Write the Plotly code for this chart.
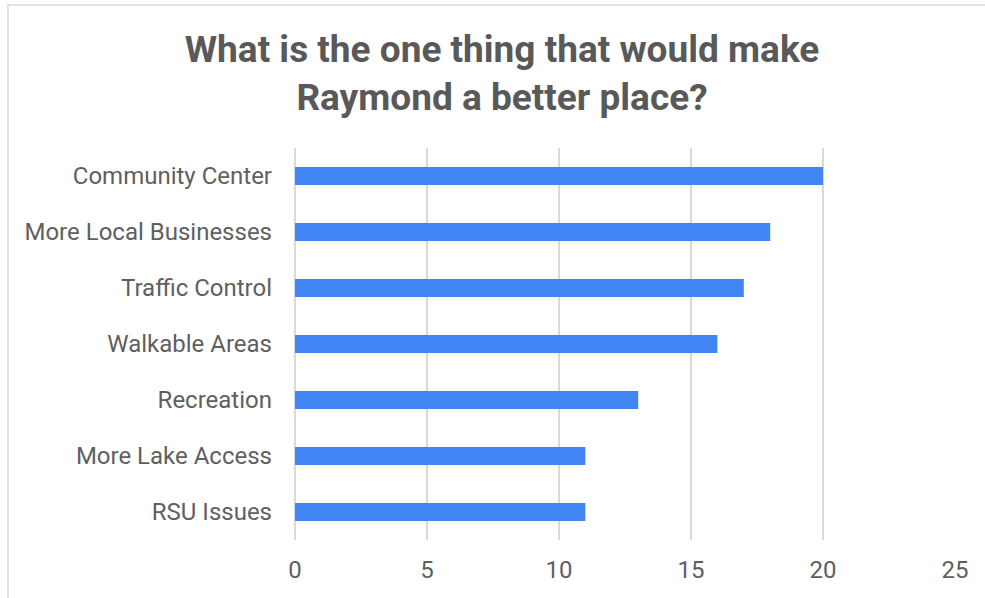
import plotly.graph_objects as go

categories = ["Community Center", "More Local Businesses", "Traffic Control",
              "Walkable Areas", "Recreation", "More Lake Access", "RSU Issues"]
values = [20, 18, 17, 16, 13, 11, 11]
x_ticks = [0, 5, 10, 15, 20, 25]

fig = go.Figure(go.Bar(
    x=values, y=categories, orientation="h",
    marker=dict(color="#4285F4", line=dict(width=0)),
    hoverinfo="x+y",
))

W, H = 985, 598
L, R, T, B = 295, 30, 148, 58

fig.update_layout(
    width=W, height=H,
    margin=dict(l=L, r=R, t=T, b=B, autoexpand=False),
    paper_bgcolor="white", plot_bgcolor="white",
    font=dict(family="Roboto", color="#5f5f5f", size=24),
    bargap=0.68,
    showlegend=False,
    title=dict(
        text="<b>What is the one thing that would make<br>Raymond a better place?</b>",
        x=502 / W, xanchor="center", y=1 - 62 / H, yanchor="middle",
        yref="container",
        font=dict(family="Roboto", size=37, color="#595959"),
    ),
    xaxis=dict(
        range=[0, 25], tickvals=x_ticks, showgrid=True,
        gridcolor="#d9d9d9", gridwidth=1.5,
        zeroline=True, zerolinecolor="#d9d9d9", zerolinewidth=1.5,
        showline=False, ticks="", ticklabelstandoff=13,
        tickfont=dict(size=24, color="#5f5f5f"),
        fixedrange=True,
    ),
    yaxis=dict(
        categoryorder="array", categoryarray=categories[::-1],
        showgrid=False, showline=False, ticks="", ticklabelstandoff=22,
        tickfont=dict(size=24, color="#5f5f5f"),
        fixedrange=True,
    ),
)

pw, ph = W - L - R, H - T - B
fig.add_shape(
    type="rect", xref="paper", yref="paper",
    x0=(8 - L) / pw, x1=(W + 20 - L) / pw,
    y0=-(B + 20) / ph, y1=(H - B - 5) / ph,
    line=dict(color="#d9d9d9", width=1.5), fillcolor="rgba(0,0,0,0)",
    layer="below",
)

fig.write_html("out.html", config={"displayModeBar": False},
               post_script="document.body.style.margin='0';")
